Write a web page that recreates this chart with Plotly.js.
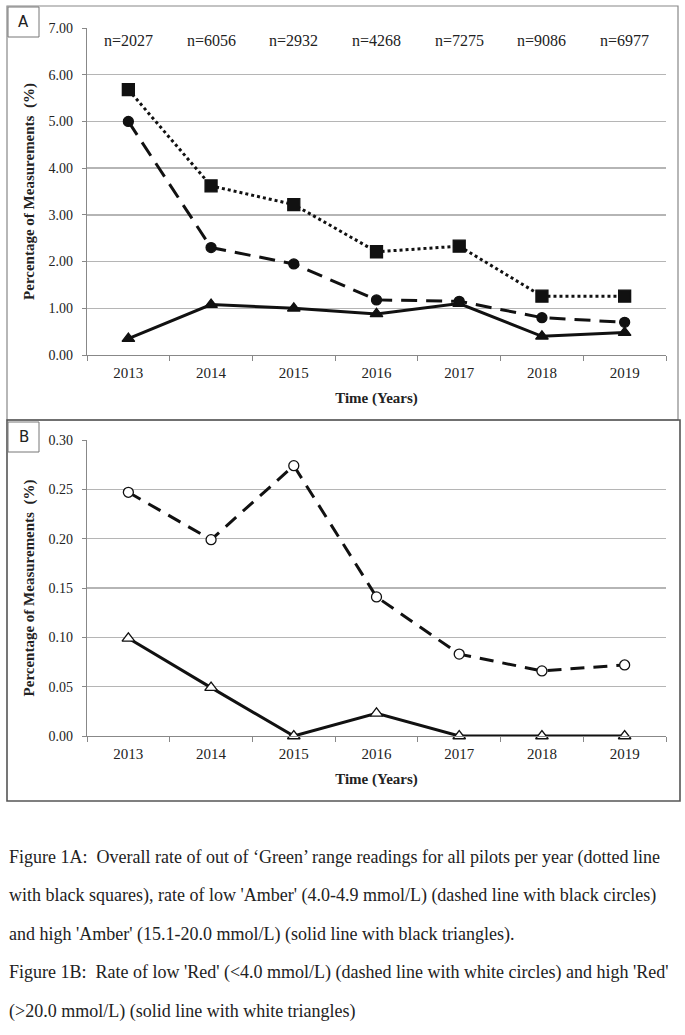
<!DOCTYPE html>
<html>
<head>
<meta charset="utf-8">
<script src="https://cdn.plot.ly/plotly-3.0.1.min.js"></script>
<style>
  body { margin: 0; background: #fff; }
  #chart { width: 685px; height: 1035px; }
</style>
</head>
<body>
<div id="chart"></div>
<script>
// Data
const years = ['2013', '2014', '2015', '2016', '2017', '2018', '2019'];
const nLabels = ['n=2027', 'n=6056', 'n=2932', 'n=4268', 'n=7275', 'n=9086', 'n=6977'];

// Figure 1A
const outOfGreen = [5.68, 3.62, 3.22, 2.21, 2.33, 1.26, 1.26];
const lowAmber = [5.00, 2.30, 1.95, 1.18, 1.15, 0.80, 0.70];
const highAmber = [0.35, 1.08, 1.00, 0.88, 1.10, 0.40, 0.48];

// Figure 1B
const lowRed = [0.247, 0.199, 0.274, 0.141, 0.083, 0.066, 0.072];
const highRed = [0.099, 0.049, 0.000, 0.023, 0.000, 0.000, 0.000];

const captionLines = [
  "Figure 1A:  Overall rate of out of \u2018Green\u2019 range readings for all pilots per year (dotted line",
  "with black squares), rate of low 'Amber' (4.0-4.9 mmol/L) (dashed line with black circles)",
  "and high 'Amber' (15.1-20.0 mmol/L) (solid line with black triangles).",
  "Figure 1B:  Rate of low 'Red' (<4.0 mmol/L) (dashed line with white circles) and high 'Red'",
  "(>20.0 mmol/L) (solid line with white triangles)"
];

const W = 685, H = 1035;
const px = (v) => v / W;
const py = (v) => 1 - v / H;
const serif = 'Liberation Serif, Times New Roman, serif';

function line(x, y, xa, ya, dash, symbol, fill) {
  let size = 10;
  if (symbol === 'square') size = 12;
  if (symbol === 'triangle-up') size = 11;
  return {
    x: x, y: y, xaxis: xa, yaxis: ya,
    type: 'scatter', mode: 'lines+markers',
    line: { color: '#111', width: 3, dash: dash },
    marker: { symbol: symbol, size: size, color: fill, line: { color: '#111', width: 1.3 } },
    showlegend: false, cliponaxis: false
  };
}

const traces = [
  line(years, outOfGreen, 'x', 'y', 'dot', 'square', '#111'),
  line(years, lowAmber, 'x', 'y', '16px,9px', 'circle', '#111'),
  line(years, highAmber, 'x', 'y', 'solid', 'triangle-up', '#111'),
  line(years, lowRed, 'x2', 'y2', '14px,9px', 'circle', '#fff'),
  line(years, highRed, 'x2', 'y2', 'solid', 'triangle-up', '#fff')
];

const xAxisBase = {
  type: 'category', range: [-0.5, 6.5],
  showgrid: false, showline: true, linecolor: '#888', linewidth: 1.3,
  ticks: 'outside', tickson: 'boundaries', ticklen: 5, tickcolor: '#888',
  ticklabelstandoff: 4,
  tickfont: { family: serif, size: 15, color: '#222' },
  title: { text: '<b>Time (Years)</b>', font: { family: serif, size: 15, color: '#222' }, standoff: 12 }
};
const yAxisBase = {
  showgrid: true, gridcolor: '#b5b5b5', gridwidth: 1.4,
  showline: true, linecolor: '#888', linewidth: 1.3,
  ticks: 'outside', ticklen: 4, tickcolor: '#888',
  ticklabelstandoff: 6,
  tickformat: '.2f', zeroline: false,
  tickfont: { family: serif, size: 14, color: '#222' },
  title: { text: '<b>Percentage of Measurements  (%)</b>', font: { family: serif, size: 15, color: '#222' }, standoff: 10 }
};

const annotations = [];
// sample sizes above each year (category index on the x axis)
nLabels.forEach((t, i) => {
  annotations.push({
    x: i, y: 6.74, xref: 'x', yref: 'y', text: t, showarrow: false,
    xanchor: 'center', yanchor: 'middle',
    font: { family: serif, size: 16, color: '#222' }
  });
});
// panel letters
[['A', 23.5, 22], ['B', 23.5, 437]].forEach(([t, cx, cy]) => {
  annotations.push({
    x: px(cx), y: py(cy), xref: 'paper', yref: 'paper', text: t, showarrow: false,
    xanchor: 'center', yanchor: 'middle',
    font: { family: 'DejaVu Sans, sans-serif', size: 15, color: '#222' }
  });
});
captionLines.forEach((t, i) => {
  annotations.push({
    x: px(7), y: py(857 + i * 38.5), xref: 'paper', yref: 'paper', text: t.replace(/</g, '&lt;').replace(/>/g, '&gt;'),
    showarrow: false, xanchor: 'left', yanchor: 'middle',
    font: { family: serif, size: 18, color: '#222' }
  });
});

const box = (x0, y0, x1, y1, c, w) => ({
  type: 'rect', xref: 'paper', yref: 'paper',
  x0: px(x0), x1: px(x1), y0: py(y1), y1: py(y0),
  line: { color: c, width: w }, fillcolor: 'rgba(0,0,0,0)', layer: 'below'
});

const layout = {
  width: W, height: H,
  margin: { l: 0, r: 0, t: 0, b: 0 },
  paper_bgcolor: '#fff', plot_bgcolor: '#fff',
  xaxis: Object.assign({}, xAxisBase, { domain: [px(87), px(666)], anchor: 'y' }),
  yaxis: Object.assign({}, yAxisBase, { domain: [py(355), py(28)], range: [0, 7], dtick: 1, anchor: 'x' }),
  xaxis2: Object.assign({}, xAxisBase, { domain: [px(87), px(666)], anchor: 'y2' }),
  yaxis2: Object.assign({}, yAxisBase, { domain: [py(736), py(440)], range: [0, 0.30], dtick: 0.05, anchor: 'x2' }),
  annotations: annotations,
  shapes: [
    box(7, 6, 678, 420, '#888', 1.2),
    box(7, 420, 680, 801, '#555', 1.6),
    box(8, 7, 39, 37, '#777', 1),
    box(8, 422, 39, 452, '#777', 1)
  ]
};

Plotly.newPlot('chart', traces, layout, { staticPlot: true, displayModeBar: false });
</script>
</body>
</html>
